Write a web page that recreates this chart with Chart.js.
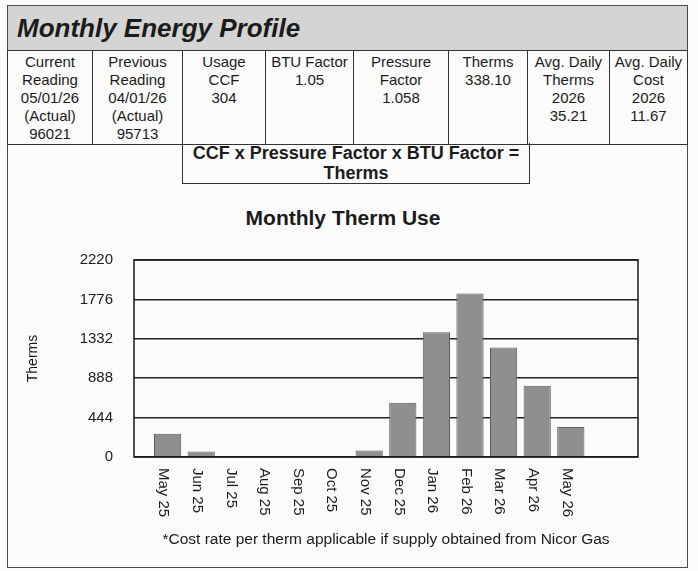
<!DOCTYPE html>
<meta charset="utf-8">
<style>
html, body {
  margin: 0;
  background: #fbfbfb;
}

.sheet {
  position: relative;
  width: 698px;
  height: 571px;
  overflow: hidden;
  font-family: "Liberation Sans", Arial, sans-serif;
  color: #1b1b1b;
}

.frame {
  position: absolute;
  left: 7px;
  top: 5px;
  width: 679px;
  height: 561px;
  border: 1px solid #4a4a4a;
}

.banner {
  position: absolute;
  left: 8px;
  top: 6px;
  width: 679px;
  height: 44px;
  background: #d4d4d4;
  font-weight: bold;
  font-style: italic;
  font-size: 26px;
  line-height: 44px;
  text-indent: 9px;
}

.readings {
  position: absolute;
  left: 7px;
  top: 50px;
  border-collapse: collapse;
  table-layout: fixed;
  font-size: 15px;
  line-height: 18px;
}

.readings td {
  border: 1px solid #333;
  height: 91px;
  padding: 2px 0 0 0;
  vertical-align: top;
  text-align: center;
  white-space: nowrap;
  overflow: hidden;
}

.formula {
  position: absolute;
  left: 182px;
  top: 143px;
  width: 346px;
  height: 40px;
  border: 1px solid #333;
  border-top: none;
  font-weight: bold;
  font-size: 18px;
  line-height: 20px;
  text-align: center;
  white-space: nowrap;
}

.chart-title {
  position: absolute;
  left: 193px;
  top: 206px;
  width: 300px;
  font-weight: bold;
  font-size: 21px;
  line-height: 24px;
  text-align: center;
}

.js-chart {
  position: absolute;
  left: 0;
  top: 230px;
}

.footnote {
  position: absolute;
  left: 86px;
  top: 530px;
  width: 600px;
  font-size: 15.5px;
  line-height: 18px;
  text-align: center;
}
</style>
<body>

<div class="sheet">
  <div class="frame"></div>
  <div class="banner">Monthly Energy Profile</div>
  <table class="readings js-readings"></table>
  <div class="formula">CCF x Pressure Factor x BTU Factor =<br>Therms</div>
  <div class="chart-title">Monthly Therm Use</div>
  <canvas class="js-chart" width="698" height="310" style="width:698px;height:310px"></canvas>
  <div class="footnote">*Cost rate per therm applicable if supply obtained from Nicor Gas</div>
</div>

<script src="https://cdn.jsdelivr.net/npm/chart.js@4/dist/chart.umd.min.js"></script>
<script>
"use strict";

// meter summary row, one entry per column
var summaryCells = [
  ["Current", "Reading", "05/01/26", "(Actual)", "96021"],
  ["Previous", "Reading", "04/01/26", "(Actual)", "95713"],
  ["Usage", "CCF", "304"],
  ["BTU Factor", "1.05"],
  ["Pressure", "Factor", "1.058"],
  ["Therms", "338.10"],
  ["Avg. Daily", "Therms", "2026", "35.21"],
  ["Avg. Daily", "Cost", "2026", "11.67"]
];
var columnWidths = [85, 90, 83, 88, 95, 79, 82, 78];

// monthly usage
var months = ["May 25", "Jun 25", "Jul 25", "Aug 25", "Sep 25", "Oct 25", "Nov 25",
              "Dec 25", "Jan 26", "Feb 26", "Mar 26", "Apr 26", "May 26"];
var therms = [263, 63, 0, 0, 0, 0, 74, 612, 1406, 1843, 1235, 802, 338.10];
var thermTicks = [0, 444, 888, 1332, 1776, 2220];

var FONT = "'Liberation Sans', Arial, sans-serif";

function buildSummary() {
  var table = document.querySelector(".js-readings");
  var row = table.insertRow();
  summaryCells.forEach(function (lines, i) {
    var cell = row.insertCell();
    cell.style.width = (columnWidths[i] - 1) + "px";
    cell.innerHTML = lines.join("<br>");
  });
}

// box round the plot plus the month labels, which run top-to-bottom
var plotDecor = {
  id: "plotDecor",
  afterDatasetsDraw: function (chart) {
    var a = chart.chartArea, ctx = chart.ctx;
    ctx.save();
    ctx.strokeStyle = "#1a1a1a";
    ctx.lineWidth = 1.5;
    ctx.strokeRect(a.left, a.top, a.right - a.left, a.bottom - a.top);
    ctx.restore();
  },
  afterDraw: function (chart) {
    var ctx = chart.ctx, x = chart.scales.x, a = chart.chartArea;
    ctx.save();
    ctx.font = "15px " + FONT;
    ctx.fillStyle = "#1b1b1b";
    ctx.textAlign = "left";
    ctx.textBaseline = "middle";
    months.forEach(function (m, i) {
      ctx.save();
      ctx.translate(x.getPixelForValue(i) - 4, a.bottom + 11);
      ctx.rotate(Math.PI / 2);
      ctx.fillText(m, 0, 0);
      ctx.restore();
    });
    ctx.restore();
  }
};

function drawChart() {
  var ctx = document.querySelector(".js-chart").getContext("2d");

  new Chart(ctx, {
    type: "bar",
    data: {
      datasets: [{
        data: therms.map(function (v, i) { return { x: i, y: v }; }),
        backgroundColor: "#8f8f8f",
        borderColor: "#5e5e5e",
        borderWidth: 1,
        barPercentage: 0.81,
        categoryPercentage: 1
      }]
    },
    options: {
      responsive: false,
      animation: false,
      devicePixelRatio: 1,
      layout: { padding: { left: 0, top: 30, right: 60, bottom: 0 } },
      plugins: {
        legend: { display: false },
        tooltip: { enabled: false }
      },
      scales: {
        x: {
          type: "linear",
          offset: false,
          min: -1,
          max: 14,
          grid: { display: false },
          border: { display: false },
          ticks: { display: false },
          afterFit: function (scale) { scale.height = 83; }
        },
        y: {
          min: thermTicks[0],
          max: thermTicks[thermTicks.length - 1],
          afterBuildTicks: function (scale) {
            scale.ticks = thermTicks.map(function (v) { return { value: v }; });
          },
          grid: { color: "#222", lineWidth: 1.5, drawTicks: false },
          border: { display: false },
          ticks: {
            padding: 21,
            color: "#1b1b1b",
            font: { family: FONT, size: 15 },
            callback: function (v) { return String(v); }
          },
          title: {
            display: true,
            text: "Therms",
            color: "#1b1b1b",
            font: { family: FONT, size: 14 },
            padding: { top: 25, bottom: 0 }
          },
          afterFit: function (scale) { scale.width = 134; }
        }
      }
    },
    plugins: [plotDecor]
  });
}

buildSummary();
drawChart();
</script>
</body>
